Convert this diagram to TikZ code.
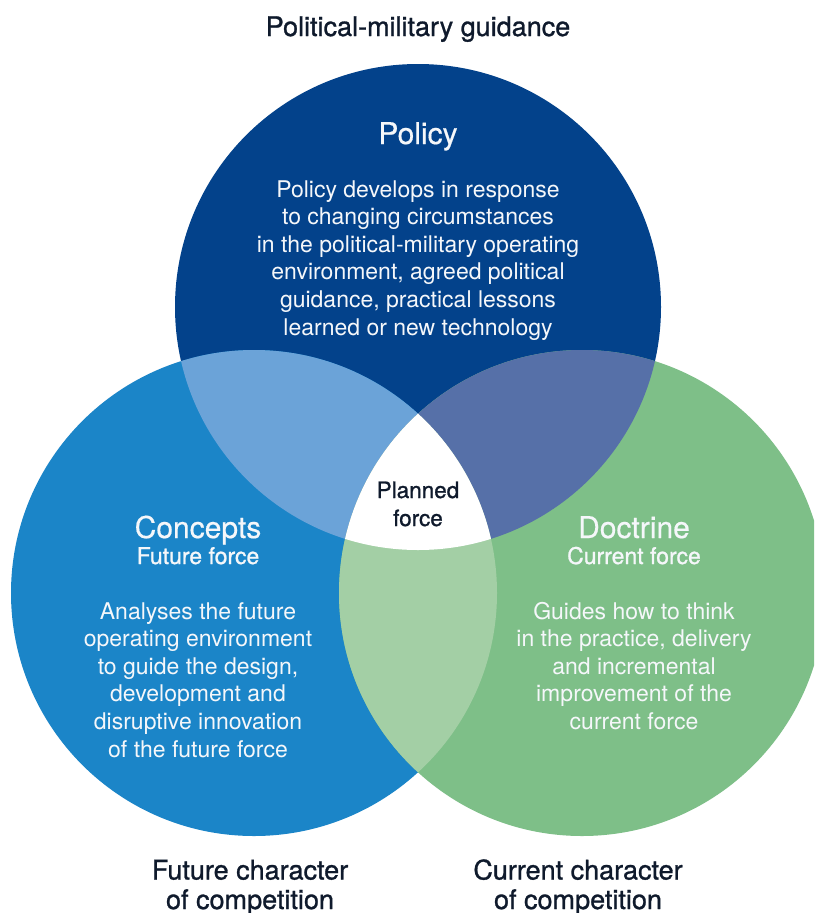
\documentclass[tikz,border=0pt]{standalone}
\usepackage{fontspec}
\setmainfont{TeX Gyre Heros}
\newfontfamily\medfont[FakeBold=1]{TeX Gyre Heros}
\newfontfamily\semifont[FakeBold=0.5]{TeX Gyre Heros}
\definecolor{polc}{RGB}{3,66,139}
\definecolor{conc}{RGB}{27,133,200}
\definecolor{docc}{RGB}{126,191,136}
\definecolor{pcc}{RGB}{107,163,216}
\definecolor{pdc}{RGB}{86,112,168}
\definecolor{cdc}{RGB}{163,207,165}
\definecolor{inkc}{RGB}{15,26,44}
\definecolor{bodyc}{RGB}{245,247,250}
\tikzset{
  lbl/.style={inner sep=0pt, anchor=base, align=center},
  bodytxt/.style={lbl, text=bodyc, font=\fontsize{23}{27.6}\selectfont},
  titletxt/.style={lbl, text=bodyc, font=\semifont\fontsize{30}{34}\selectfont},
  subtxt/.style={lbl, text=bodyc, font=\medfont\fontsize{23}{27.6}\selectfont},
  outtxt/.style={lbl, text=inkc, font=\medfont\fontsize{27}{29.5}\selectfont},
  midtxt/.style={lbl, text=inkc, font=\medfont\fontsize{22.5}{28}\selectfont}
}
\begin{document}
\begin{tikzpicture}[x=1pt,y=-1pt]
\clip (0,0) rectangle (814,913);
\fill[white] (0,0) rectangle (814,913);
% circles
\fill[polc] (418,307) circle[radius=243pt];
\fill[conc] (254,593) circle[radius=243pt];
\fill[docc] (582,593) circle[radius=243pt];
% pairwise overlaps
\begin{scope}
  \clip (418,307) circle[radius=243pt];
  \fill[pcc] (254,593) circle[radius=243pt];
\end{scope}
\begin{scope}
  \clip (418,307) circle[radius=243pt];
  \fill[pdc] (582,593) circle[radius=243pt];
\end{scope}
\begin{scope}
  \clip (254,593) circle[radius=243pt];
  \fill[cdc] (582,593) circle[radius=243pt];
\end{scope}
% triple overlap
\begin{scope}
  \clip (418,307) circle[radius=243pt];
  \clip (254,593) circle[radius=243pt];
  \fill[white] (582,593) circle[radius=243pt];
\end{scope}
% texts (multi-line nodes: base = baseline of last line)
\node[outtxt] (top) at (418,36) {Political-military guidance};
\node[titletxt] (poltitle) at (418,144) {Policy};
\node[bodytxt] (polbody) at (418,335) {Policy develops in response\\to changing circumstances\\in the political-military operating\\environment, agreed political\\guidance, practical lessons\\learned or new technology};
\node[midtxt] (planned) at (418,526) {Planned\\force};
\node[titletxt] (contitle) at (198,538) {Concepts};
\node[subtxt] (consub) at (198,564) {Future force};
\node[bodytxt] (conbody) at (198,757) {Analyses the future\\operating environment\\to guide the design,\\development and\\disruptive innovation\\of the future force};
\node[titletxt] (doctitle) at (634,538) {Doctrine};
\node[subtxt] (docsub) at (634,564) {Current force};
\node[bodytxt] (docbody) at (634,729.4) {Guides how to think\\in the practice, delivery\\and incremental\\improvement of the\\current force};
\node[outtxt] (futlbl) at (250,909) {Future character\\of competition};
\node[outtxt] (curlbl) at (578,909) {Current character\\of competition};
\end{tikzpicture}
\end{document}
